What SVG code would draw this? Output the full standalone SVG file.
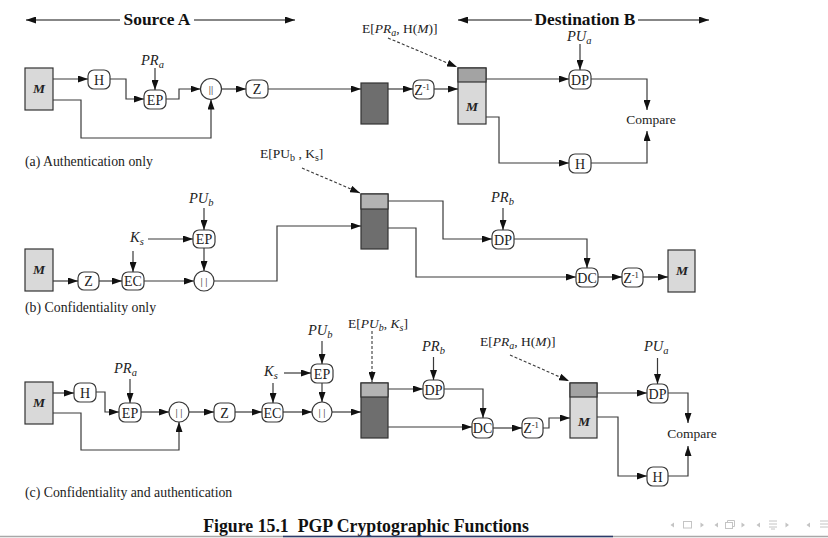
<svg xmlns="http://www.w3.org/2000/svg" width="828" height="538" viewBox="0 0 828 538">
<style>
.ln{fill:none;stroke:#3a3a3a;stroke-width:1.2}
.ds{fill:none;stroke:#3a3a3a;stroke-width:1.1;stroke-dasharray:3,2}
.nd{fill:#fff;stroke:#3a3a3a;stroke-width:1.2}
.bx{stroke:#333;stroke-width:1.2}
.lt{fill:#d9d9d9}
.dk{fill:#6e6e6e}
.st1{fill:#b3b3b3}
.st2{fill:#a3a3a3}
.t{font-family:"Liberation Serif",serif;font-size:13.5px;fill:#222}
.n{font-size:14px}
.c{text-anchor:middle}
.i{font-style:italic}
.b{font-weight:bold}
.cap{font-size:13.8px}
.h{font-family:"Liberation Serif",serif;font-size:17.4px;font-weight:bold;fill:#111;text-anchor:middle}
.nav{fill:none;stroke:#c4c4c4;stroke-width:1}
.navf{fill:#c4c4c4}
</style>
<defs>
<marker id="ar" viewBox="0 0 10 7" refX="10" refY="3.5" markerWidth="10" markerHeight="7" markerUnits="userSpaceOnUse" orient="auto-start-reverse">
<path d="M0,0 L10,3.5 L0,7 z" fill="#111"/>
</marker>
</defs>
<rect width="828" height="538" fill="#fff"/>

<!-- headers -->
<g id="hdr-source">
<path class="ln" d="M26,20 H120 M194,20 H295" marker-start="url(#ar)" marker-end="url(#ar)" style="stroke:#111"/>
<text class="h" x="157" y="25">Source A</text>
</g>
<g id="hdr-dest">
<path class="ln" d="M458,20 H532 M638,20 H709" marker-start="url(#ar)" marker-end="url(#ar)" style="stroke:#111"/>
<text class="h" x="585" y="25">Destination B</text>
</g>

<!-- ================= (a) ================= -->
<g id="a-M"><rect class="bx lt" x="25" y="68" width="28" height="42"/><text class="t c i b" x="39" y="93">M</text></g>
<g id="a-H"><rect class="nd" x="88" y="70" width="22" height="19" rx="6"/><text class="t n c" x="99" y="84.5">H</text></g>
<g id="a-EP"><rect class="nd" x="144" y="90" width="22" height="19" rx="6"/><text class="t n c" x="155" y="104.5">EP</text></g>
<g id="a-cat"><circle class="nd" cx="211" cy="89" r="10.5"/><text class="t c" x="211" y="93" style="font-size:11px">||</text></g>
<g id="a-Z"><rect class="nd" x="246" y="80" width="22" height="18" rx="6"/><text class="t n c" x="257" y="94">Z</text></g>
<g id="a-box"><rect class="bx dk" x="361" y="83" width="27" height="41"/></g>
<g id="a-Zinv"><rect class="nd" x="413" y="80" width="21" height="19" rx="6"/><text class="t n c" x="422" y="94.5">Z<tspan dy="-5" style="font-size:8.5px">-1</tspan></text></g>
<g id="a-Mdest"><rect class="bx lt" x="458" y="68" width="28" height="56"/><rect class="bx st2" x="458" y="68" width="28" height="14"/><text class="t c i b" x="472" y="111">M</text></g>
<g id="a-DP"><rect class="nd" x="569" y="70" width="22" height="19" rx="6"/><text class="t n c" x="580" y="84.5">DP</text></g>
<g id="a-H2"><rect class="nd" x="569" y="154" width="22" height="19" rx="6"/><text class="t n c" x="580" y="168.5">H</text></g>
<g id="a-labels">
<text class="t i" x="141" y="65" style="font-size:14.5px">PR<tspan dy="3" style="font-size:10.5px">a</tspan></text>
<text class="t i" x="567" y="41" style="font-size:14.5px">PU<tspan dy="3" style="font-size:10.5px">a</tspan></text>
<text class="t" x="362" y="33">E[<tspan class="i">PR</tspan><tspan class="i" dy="3" style="font-size:10px">a</tspan><tspan dy="-3">, H(</tspan><tspan class="i">M</tspan>)]</text>
<text class="t c" x="651" y="124">Compare</text>
<text class="t cap" x="25" y="166">(a) Authentication only</text>
</g>

<!-- ================= (b) ================= -->
<g id="b-M"><rect class="bx lt" x="25" y="249" width="28" height="42"/><text class="t c i b" x="39" y="274">M</text></g>
<g id="b-Z"><rect class="nd" x="78" y="272" width="21" height="18" rx="6"/><text class="t n c" x="88.5" y="286">Z</text></g>
<g id="b-EC"><rect class="nd" x="122" y="272" width="22" height="18" rx="6"/><text class="t n c" x="133" y="286">EC</text></g>
<g id="b-EP"><rect class="nd" x="193" y="230" width="22" height="18" rx="6"/><text class="t n c" x="204" y="244">EP</text></g>
<g id="b-cat"><circle class="nd" cx="204" cy="281" r="10"/><text class="t c" x="204" y="285" style="font-size:11px">| |</text></g>
<g id="b-box"><rect class="bx dk" x="361" y="194" width="27" height="55"/><rect class="bx st1" x="361" y="194" width="27" height="15"/></g>
<g id="b-DP"><rect class="nd" x="492" y="230" width="22" height="19" rx="6"/><text class="t n c" x="503" y="244.5">DP</text></g>
<g id="b-DC"><rect class="nd" x="576" y="268" width="22" height="19" rx="6"/><text class="t n c" x="587" y="282.5">DC</text></g>
<g id="b-Zinv"><rect class="nd" x="622" y="268" width="21" height="19" rx="6"/><text class="t n c" x="631" y="282.5">Z<tspan dy="-5" style="font-size:8.5px">-1</tspan></text></g>
<g id="b-Mdest"><rect class="bx lt" x="668" y="250" width="27" height="42"/><text class="t c i b" x="682" y="275">M</text></g>
<g id="b-labels">
<text class="t i" x="189" y="203" style="font-size:14.5px">PU<tspan dy="3" style="font-size:10.5px">b</tspan></text>
<text class="t i" x="130" y="242" style="font-size:14.5px">K<tspan dy="3" style="font-size:10.5px">s</tspan></text>
<text class="t i" x="491" y="202" style="font-size:14.5px">PR<tspan dy="3" style="font-size:10.5px">b</tspan></text>
<text class="t" x="260" y="158">E[PU<tspan dy="3" style="font-size:10px">b</tspan><tspan dy="-3"> , K</tspan><tspan dy="3" style="font-size:10px">s</tspan><tspan dy="-3">]</tspan></text>
<text class="t cap" x="25" y="312">(b) Confidentiality only</text>
</g>

<!-- ================= (c) ================= -->
<g id="c-M"><rect class="bx lt" x="25" y="382" width="28" height="42"/><text class="t c i b" x="39" y="407">M</text></g>
<g id="c-H"><rect class="nd" x="74" y="383" width="22" height="19" rx="6"/><text class="t n c" x="85" y="397.5">H</text></g>
<g id="c-EP"><rect class="nd" x="119" y="403" width="22" height="19" rx="6"/><text class="t n c" x="130" y="417.5">EP</text></g>
<g id="c-cat"><circle class="nd" cx="179" cy="412" r="10"/><text class="t c" x="179" y="416" style="font-size:11px">| |</text></g>
<g id="c-Z"><rect class="nd" x="214" y="403" width="21" height="19" rx="6"/><text class="t n c" x="224.5" y="417.5">Z</text></g>
<g id="c-EC"><rect class="nd" x="262" y="403" width="21" height="19" rx="6"/><text class="t n c" x="272.5" y="417.5">EC</text></g>
<g id="c-EP2"><rect class="nd" x="311" y="364" width="22" height="19" rx="6"/><text class="t n c" x="322" y="378.5">EP</text></g>
<g id="c-cat2"><circle class="nd" cx="322" cy="412" r="10"/><text class="t c" x="322" y="416" style="font-size:11px">| |</text></g>
<g id="c-box"><rect class="bx dk" x="361" y="383" width="27" height="55"/><rect class="bx st1" x="361" y="383" width="27" height="14"/></g>
<g id="c-DP"><rect class="nd" x="423" y="380" width="21" height="19" rx="6"/><text class="t n c" x="433.5" y="394.5">DP</text></g>
<g id="c-DC"><rect class="nd" x="472" y="418" width="21" height="20" rx="6"/><text class="t n c" x="482.5" y="433">DC</text></g>
<g id="c-Zinv"><rect class="nd" x="522" y="418" width="21" height="20" rx="6"/><text class="t n c" x="531" y="433">Z<tspan dy="-5" style="font-size:8.5px">-1</tspan></text></g>
<g id="c-Mdest"><rect class="bx lt" x="570" y="383" width="27" height="55"/><rect class="bx st2" x="570" y="383" width="27" height="14"/><text class="t c i b" x="584" y="426">M</text></g>
<g id="c-DP2"><rect class="nd" x="647" y="384" width="21" height="19" rx="6"/><text class="t n c" x="657.5" y="398.5">DP</text></g>
<g id="c-H2"><rect class="nd" x="647" y="467" width="21" height="19" rx="6"/><text class="t n c" x="657.5" y="481.5">H</text></g>
<g id="c-labels">
<text class="t i" x="114" y="373" style="font-size:14.5px">PR<tspan dy="3" style="font-size:10.5px">a</tspan></text>
<text class="t i" x="264" y="376" style="font-size:14.5px">K<tspan dy="3" style="font-size:10.5px">s</tspan></text>
<text class="t i" x="308" y="335" style="font-size:14.5px">PU<tspan dy="3" style="font-size:10.5px">b</tspan></text>
<text class="t" x="348" y="328">E[<tspan class="i">PU</tspan><tspan class="i" dy="3" style="font-size:10px">b</tspan><tspan dy="-3">, </tspan><tspan class="i">K</tspan><tspan class="i" dy="3" style="font-size:10px">s</tspan><tspan dy="-3">]</tspan></text>
<text class="t i" x="422" y="351" style="font-size:14.5px">PR<tspan dy="3" style="font-size:10.5px">b</tspan></text>
<text class="t" x="480" y="346">E[<tspan class="i">PR</tspan><tspan class="i" dy="3" style="font-size:10px">a</tspan><tspan dy="-3">, H(</tspan><tspan class="i">M</tspan>)]</text>
<text class="t i" x="644" y="351" style="font-size:14.5px">PU<tspan dy="3" style="font-size:10.5px">a</tspan></text>
<text class="t c" x="692" y="438">Compare</text>
<text class="t cap" x="25" y="497">(c) Confidentiality and authentication</text>
</g>

<!-- ================= connectors ================= -->
<g id="connectors">
<!-- (a) -->
<path class="ln" d="M53,79 H88" marker-end="url(#ar)"/>
<path class="ln" d="M110,79 H126 V99 H144" marker-end="url(#ar)"/>
<path class="ln" d="M155,68 V90" marker-end="url(#ar)"/>
<path class="ln" d="M166,99 H179 V89 H200.5" marker-end="url(#ar)"/>
<path class="ln" d="M53,100 H81 V138 H211 V99.5" marker-end="url(#ar)"/>
<path class="ln" d="M221.5,89 H246" marker-end="url(#ar)"/>
<path class="ln" d="M268,89 H361" marker-end="url(#ar)"/>
<path class="ln" d="M388,89 H413" marker-end="url(#ar)"/>
<path class="ln" d="M434,89 H458" marker-end="url(#ar)"/>
<path class="ds" d="M388,38 L457,67" marker-end="url(#ar)"/>
<path class="ln" d="M486,79 H569" marker-end="url(#ar)"/>
<path class="ln" d="M580,44 V70" marker-end="url(#ar)"/>
<path class="ln" d="M591,79 H647 V110" marker-end="url(#ar)"/>
<path class="ln" d="M486,117 H499 V163 H569" marker-end="url(#ar)"/>
<path class="ln" d="M591,163 H647 V131" marker-end="url(#ar)"/>
<!-- (b) -->
<path class="ln" d="M53,281 H78" marker-end="url(#ar)"/>
<path class="ln" d="M99,281 H122" marker-end="url(#ar)"/>
<path class="ln" d="M133,251 V272" marker-end="url(#ar)"/>
<path class="ln" d="M148,239 H193" marker-end="url(#ar)"/>
<path class="ln" d="M204,208 V230" marker-end="url(#ar)"/>
<path class="ln" d="M204,248 V271" marker-end="url(#ar)"/>
<path class="ln" d="M144,281 H194" marker-end="url(#ar)"/>
<path class="ln" d="M214,281 H277 V226 H361" marker-end="url(#ar)"/>
<path class="ds" d="M302,168 L360,193" marker-end="url(#ar)"/>
<path class="ln" d="M388,201 H443 V239 H492" marker-end="url(#ar)"/>
<path class="ln" d="M503,208 V230" marker-end="url(#ar)"/>
<path class="ln" d="M514,239 H587 V268" marker-end="url(#ar)"/>
<path class="ln" d="M388,228 H416 V277 H576" marker-end="url(#ar)"/>
<path class="ln" d="M598,277 H622" marker-end="url(#ar)"/>
<path class="ln" d="M643,277 H668" marker-end="url(#ar)"/>
<!-- (c) -->
<path class="ln" d="M53,393 H74" marker-end="url(#ar)"/>
<path class="ln" d="M96,392 H105 V412 H119" marker-end="url(#ar)"/>
<path class="ln" d="M130,379 V403" marker-end="url(#ar)"/>
<path class="ln" d="M141,412 H169" marker-end="url(#ar)"/>
<path class="ln" d="M53,413 H81 V450 H179 V422" marker-end="url(#ar)"/>
<path class="ln" d="M189,412 H214" marker-end="url(#ar)"/>
<path class="ln" d="M235,412 H262" marker-end="url(#ar)"/>
<path class="ln" d="M273,383 V403" marker-end="url(#ar)"/>
<path class="ln" d="M284,373 H311" marker-end="url(#ar)"/>
<path class="ln" d="M322,341 V364" marker-end="url(#ar)"/>
<path class="ln" d="M322,383 V402" marker-end="url(#ar)"/>
<path class="ln" d="M283,412 H312" marker-end="url(#ar)"/>
<path class="ln" d="M332,412 H361" marker-end="url(#ar)"/>
<path class="ds" d="M372,331 V382" marker-end="url(#ar)"/>
<path class="ln" d="M388,389 H423" marker-end="url(#ar)"/>
<path class="ln" d="M433.5,357 V380" marker-end="url(#ar)"/>
<path class="ln" d="M444,389 H483 V418" marker-end="url(#ar)"/>
<path class="ln" d="M388,427 H472" marker-end="url(#ar)"/>
<path class="ln" d="M493,428 H522" marker-end="url(#ar)"/>
<path class="ln" d="M543,428 H549 V418 H570" marker-end="url(#ar)"/>
<path class="ds" d="M510,355 L569,381" marker-end="url(#ar)"/>
<path class="ln" d="M597,393 H647" marker-end="url(#ar)"/>
<path class="ln" d="M657.5,358 V384" marker-end="url(#ar)"/>
<path class="ln" d="M668,393 H688 V423" marker-end="url(#ar)"/>
<path class="ln" d="M597,417 H618 V476 H647" marker-end="url(#ar)"/>
<path class="ln" d="M668,476 H688 V446" marker-end="url(#ar)"/>
</g>

<!-- caption -->
<text x="366" y="532" style="font-family:'Liberation Serif',serif;font-size:17.8px;font-weight:bold;fill:#111;text-anchor:middle" xml:space="preserve">Figure 15.1  PGP Cryptographic Functions</text>

<!-- beamer footer -->
<g id="footer">
<line x1="0" y1="536.5" x2="828" y2="536.5" stroke="#a8a8a8" stroke-width="1.5"/>
<line x1="283" y1="536.5" x2="613" y2="536.5" stroke="#2c3a6a" stroke-width="1.5"/>
<polygon class="navf" points="674,522.5 670.5,525 674,527.5"/>
<rect class="nav" x="683.5" y="521.5" width="8" height="6.5"/>
<polygon class="navf" points="700.5,522.5 704,525 700.5,527.5"/>
<polygon class="navf" points="718,522.5 714.5,525 718,527.5"/>
<rect class="nav" x="725.5" y="522.5" width="7" height="6"/>
<path class="nav" d="M727.5,522.5 V520.5 H734.5 V526.5 H732.5"/>
<polygon class="navf" points="741.5,522.5 745,525 741.5,527.5"/>
<polygon class="navf" points="760,522.5 756.5,525 760,527.5"/>
<path class="nav" d="M769,521 H777 M769,524 H777 M769,527 H777 M771,529 H775"/>
<polygon class="navf" points="785.5,522.5 789,525 785.5,527.5"/>
<polygon class="navf" points="810,522.5 806.5,525 810,527.5"/>
<path class="nav" d="M820,521 H828 M820,524 H828 M820,527 H828"/>
</g>
</svg>
